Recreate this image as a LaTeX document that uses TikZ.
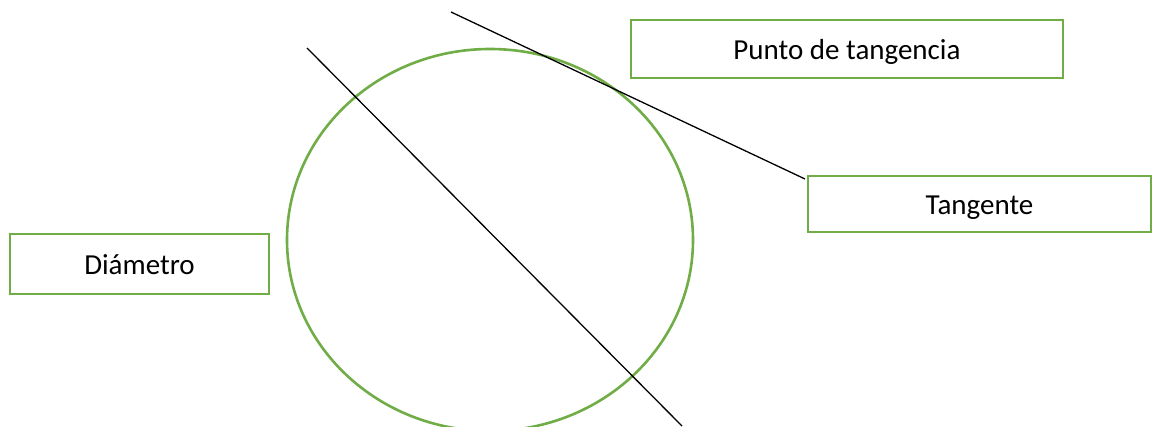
\documentclass[tikz,border=0pt]{standalone}
\usepackage{fontspec}
\setmainfont{Carlito}
\definecolor{offgreen}{HTML}{70AD47}
\begin{document}
\begin{tikzpicture}[x=1pt,y=-1pt,
  labelbox/.style={draw=offgreen,line width=2.6pt,rectangle,inner sep=0pt,
    font=\fontsize{29}{34}\selectfont,text=black,text height=27pt,text depth=6pt},
  thinline/.style={draw=black,line width=1.3pt}]
\useasboundingbox (0,0) rectangle (1152,427);
% circle
\draw[offgreen,line width=2.6pt] (490,240) ellipse [x radius=203, y radius=191];
% boxes
\node[labelbox,minimum width=432pt,minimum height=58pt] (punto) at (847,49) {Punto de tangencia};
\node[labelbox,minimum width=343pt,minimum height=56pt] (tang) at (979.5,204) {Tangente};
\node[labelbox,minimum width=259pt,minimum height=60pt] (diam) at (139.5,264) {Diámetro};
% lines
\coordinate (tstart) at (451,12);
\coordinate (tend) at (805,179);
\coordinate (dstart) at (307,48);
\coordinate (dend) at (682,426);
\draw[thinline] (tstart) -- (tend);
\draw[thinline] (dstart) -- (dend);
\end{tikzpicture}
\end{document}
